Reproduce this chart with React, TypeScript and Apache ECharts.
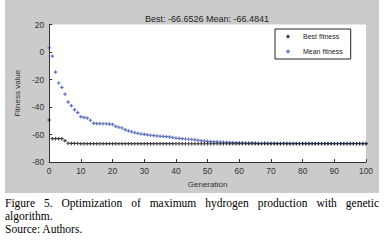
import React, { useEffect, useRef } from "react";
import * as echarts from "echarts";

const generations: number[] = Array.from({ length: 101 }, (_, i) => i);

const meanFitness: number[] = [
  3.0, -3.0, -14.6, -22.5, -25.7, -30.6, -36.4, -39.0, -42.0, -44.0,
  -47.0, -47.5, -48.0, -49.6, -51.7, -52.0, -52.0, -52.1, -52.1, -52.4,
  -52.6, -54.0, -54.7, -55.2, -56.4, -57.3, -58.0, -58.7, -59.1, -59.6,
  -59.8, -60.2, -60.5, -60.7, -61.0, -61.2, -61.3, -61.5, -61.7, -62.2,
  -62.5, -62.7, -63.0, -63.2, -63.4, -63.6, -63.8, -64.1, -64.4, -64.7,
  -64.9, -65.1, -65.2, -65.3, -65.4, -65.5, -65.6, -65.7, -65.8, -65.9,
  -66.0, -66.0, -66.1, -66.1, -66.0, -66.2, -66.3, -66.3, -66.2, -66.3,
  -66.4, -66.3, -66.4, -66.4, -66.3, -66.4, -66.5, -66.4, -66.4, -66.5,
  -66.4, -66.5, -66.4, -66.5, -66.5, -66.4, -66.5, -66.5, -66.4, -66.5,
  -66.5, -66.5, -66.4, -66.5, -66.5, -66.5, -66.4, -66.5, -66.5, -66.5,
  -66.48,
];

const bestFitness: number[] = [
  -49.4, -63.0, -63.0, -63.0, -63.0, -64.4, -66.3, -66.4, -66.4, -66.5,
  -66.6, -66.6, -66.6, -66.6, -66.6, -66.6, -66.6, -66.6, -66.6, -66.6,
  -66.6, -66.6, -66.6, -66.6, -66.6, -66.6, -66.6, -66.6, -66.6, -66.6,
  -66.6, -66.6, -66.6, -66.6, -66.6, -66.6, -66.6, -66.6, -66.6, -66.6,
  -66.65, -66.65, -66.65, -66.65, -66.65, -66.65, -66.65, -66.65, -66.65, -66.65,
  -66.65, -66.65, -66.65, -66.65, -66.65, -66.65, -66.65, -66.65, -66.65, -66.65,
  -66.65, -66.65, -66.65, -66.65, -66.65, -66.65, -66.65, -66.65, -66.65, -66.65,
  -66.65, -66.65, -66.65, -66.65, -66.65, -66.65, -66.65, -66.65, -66.65, -66.65,
  -66.65, -66.65, -66.65, -66.65, -66.65, -66.65, -66.65, -66.65, -66.65, -66.65,
  -66.65, -66.65, -66.65, -66.65, -66.65, -66.65, -66.65, -66.65, -66.65, -66.65,
  -66.6526,
];

const titleText = "Best: -66.6526 Mean: -66.4841";
const seriesNames = ["Best fitness", "Mean fitness"];
const captionLine1 = "Figure 5. Optimization of maximum hydrogen production with genetic algorithm.";
const captionLine2 = "Source: Authors.";

const PLUS = "path://M1,0h1v1h1v1h-1v1h-1v-1h-1v-1h1z";

export default function App() {
  const ref = useRef<HTMLDivElement>(null);

  useEffect(() => {
    document.body.style.margin = "0";
    if (!ref.current) return;
    const chart = echarts.init(ref.current, null, { renderer: "svg" });
    const font = "Arial, 'Liberation Sans', sans-serif";
    chart.setOption({
      animation: false,
      backgroundColor: "#cbcbcb",
      textStyle: { fontFamily: font },
      title: {
        text: titleText,
        left: 197,
        top: 9,
        textAlign: "center",
        textStyle: { fontSize: 9, fontWeight: "normal", color: "#222", fontFamily: font },
      },
      legend: {
        orient: "vertical",
        left: 270,
        top: 29,
        padding: [4, 8, 4, 11],
        itemWidth: 20,
        itemHeight: 4,
        itemGap: 8,
        backgroundColor: "#fff",
        borderColor: "#222",
        borderWidth: 1,
        borderRadius: 0,
        textStyle: { fontSize: 7, color: "#222", fontFamily: font },
        data: seriesNames,
      },
      grid: { left: 31, right: 13, top: 24.5, bottom: 24.7, show: true, backgroundColor: "#fff", borderWidth: 0 },
      xAxis: {
        type: "value",
        min: 0,
        max: 100,
        interval: 10,
        name: "Generation",
        nameLocation: "middle",
        nameGap: 14,
        nameTextStyle: { fontSize: 8, color: "#333", fontFamily: font },
        axisLine: { show: true, onZero: false, lineStyle: { color: "#333", width: 1 } },
        axisTick: { show: true, inside: true, length: 3, lineStyle: { color: "#333" } },
        axisLabel: { fontSize: 8.5, color: "#333", margin: 4, fontFamily: font },
        splitLine: { show: false },
      },
      yAxis: {
        type: "value",
        min: -80,
        max: 20,
        interval: 20,
        name: "Fitness value",
        nameLocation: "middle",
        nameGap: 24,
        nameRotate: 90,
        nameTextStyle: { fontSize: 8, color: "#333", fontFamily: font },
        axisLine: { show: true, onZero: false, lineStyle: { color: "#333", width: 1 } },
        axisTick: { show: true, inside: true, length: 3, lineStyle: { color: "#333" } },
        axisLabel: { fontSize: 8.5, color: "#333", margin: 5, fontFamily: font },
        splitLine: { show: false },
      },
      series: [
        {
          name: seriesNames[0],
          type: "scatter",
          symbol: PLUS,
          symbolSize: 3.5,
          symbolKeepAspect: true,
          itemStyle: { color: "#111" },
          data: generations.map((g, i) => [g, bestFitness[i]]),
          z: 3,
        },
        {
          name: seriesNames[1],
          type: "scatter",
          symbol: PLUS,
          symbolSize: 3.5,
          symbolKeepAspect: true,
          itemStyle: { color: "#3a50b0" },
          data: generations.map((g, i) => [g, meanFitness[i]]),
          z: 2,
        },
      ],
    });
    return () => chart.dispose();
  }, []);

  return (
    <div style={{ position: "relative", width: 384, height: 242, background: "#fff", overflow: "hidden" }}>
      <div ref={ref} style={{ position: "absolute", left: 5, top: 0, width: 374, height: 193 }} />
      <div
        style={{
          position: "absolute",
          left: 5,
          top: 197,
          width: 374,
          fontFamily: "'Liberation Serif', 'Times New Roman', serif",
          fontSize: 11.5,
          lineHeight: "13px",
          color: "#000",
          textAlign: "justify",
        }}
      >
        <div>{captionLine1}</div>
        <div>{captionLine2}</div>
      </div>
    </div>
  );
}
